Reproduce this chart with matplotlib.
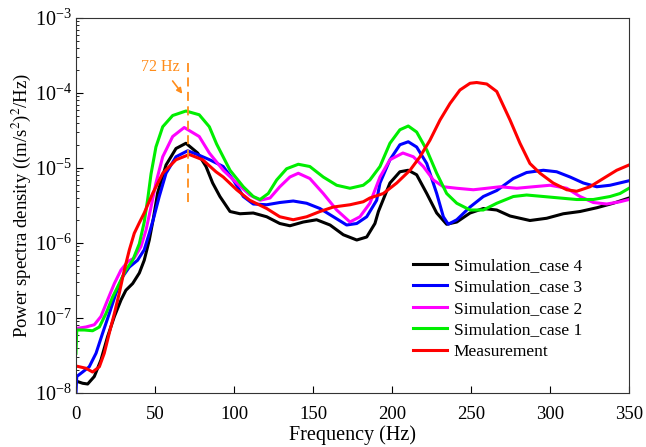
import numpy as np
import matplotlib
matplotlib.use("Agg")
from matplotlib import pyplot as plt
from matplotlib.ticker import LogLocator, LogFormatterSciNotation, MultipleLocator

# values (frequency in Hz, log10 of PSD)
f_case4 = [0, 4.2, 7.4, 11.6, 15.8, 20, 24.3, 28.5, 31.6, 35.9, 40.1, 43.2, 46.4, 49, 51.7, 57, 63.3, 69.6,
           77, 82.3, 86.5, 91.1, 97.5, 103.8, 112.2, 120.7, 129, 135.4, 143.9, 152.3, 160.8, 169.2, 177.7,
           184, 189.2, 191.4, 198.7, 205, 210.3, 215.6, 222, 228.3, 234.6, 241, 249.4, 257.8, 266.3, 274.7,
           287.3, 297.9, 308.4, 319, 329.6, 340, 350]
lg_case4 = [-7.84, -7.87, -7.88, -7.78, -7.56, -7.25, -6.98, -6.76, -6.63, -6.54, -6.40, -6.23, -5.96, -5.67,
            -5.33, -4.96, -4.74, -4.67, -4.80, -4.98, -5.20, -5.38, -5.58, -5.61, -5.60, -5.65, -5.74, -5.77,
            -5.72, -5.69, -5.76, -5.89, -5.96, -5.92, -5.74, -5.58, -5.20, -5.05, -5.03, -5.09, -5.34, -5.60,
            -5.75, -5.72, -5.60, -5.54, -5.56, -5.64, -5.70, -5.67, -5.61, -5.58, -5.53, -5.47, -5.40]

f_case3 = [0, 0.5, 4.2, 8.4, 12.7, 16.9, 21.1, 25.3, 29.5, 33.8, 39, 43.2, 46.4, 49, 52.7, 57, 63.3, 70.7,
           78, 84.6, 93.2, 99.6, 105.9, 112.2, 120.7, 129, 137.5, 146, 154.4, 162.9, 171.3, 177.7, 184,
           190.3, 192.4, 198.7, 205, 210.3, 215.6, 222, 228.3, 232.5, 235.6, 241, 249.4, 257.8, 266.3,
           276.8, 285.2, 295.8, 304.2, 312.7, 321.1, 329.6, 338, 350]
lg_case3 = [-8.0, -7.78, -7.72, -7.65, -7.47, -7.20, -6.94, -6.67, -6.45, -6.32, -6.23, -6.09, -5.87, -5.68,
            -5.38, -5.07, -4.85, -4.77, -4.83, -4.89, -4.98, -5.16, -5.38, -5.48, -5.49, -5.46, -5.44, -5.47,
            -5.54, -5.65, -5.76, -5.74, -5.65, -5.43, -5.20, -4.89, -4.69, -4.65, -4.72, -4.94, -5.34, -5.65,
            -5.75, -5.69, -5.52, -5.38, -5.30, -5.14, -5.06, -5.03, -5.05, -5.12, -5.20, -5.25, -5.23, -5.17]

f_case2 = [0, 6.3, 11.6, 15.8, 20, 24.3, 28.5, 32.7, 36.9, 41.1, 44.3, 47.5, 50.6, 54.9, 61.2, 68.5, 78,
           84.4, 93.2, 101.7, 110, 116.5, 122.8, 129, 135.4, 140.7, 148, 156.5, 165, 173.4, 179.7, 186,
           192.4, 198.7, 206.9, 213.5, 219.8, 226.2, 232.5, 241, 251.5, 260, 268.4, 279, 289.4, 300, 310.6,
           319, 327.4, 335.9, 344.3, 350]
lg_case2 = [-7.14, -7.12, -7.09, -6.98, -6.76, -6.54, -6.36, -6.25, -6.20, -6.05, -5.83, -5.52, -5.20, -4.85,
            -4.58, -4.46, -4.58, -4.80, -5.03, -5.20, -5.36, -5.43, -5.40, -5.25, -5.12, -5.07, -5.14, -5.34,
            -5.56, -5.72, -5.65, -5.47, -5.12, -4.89, -4.80, -4.85, -4.98, -5.16, -5.25, -5.27, -5.29, -5.27,
            -5.25, -5.27, -5.25, -5.23, -5.27, -5.38, -5.46, -5.48, -5.45, -5.42]

f_case1 = [0, 0.5, 5.3, 10.5, 14.8, 19, 23.2, 27.4, 31.6, 35.9, 40.1, 43.2, 45.5, 47.5, 50.6, 54.9, 61.2,
           69.6, 78, 84.4, 89, 97.5, 105.9, 112.2, 116.5, 121.7, 127, 133.3, 140.7, 148, 156.5, 165, 173.4,
           181.8, 186, 192.4, 198.7, 205, 210.3, 215.6, 222, 228.3, 234.6, 241, 249.4, 257.8, 266.3, 276.8,
           285.2, 295.8, 306.3, 316.9, 327.4, 338, 344.3, 350]
lg_case1 = [-7.47, -7.16, -7.16, -7.17, -7.12, -6.94, -6.72, -6.54, -6.36, -6.23, -6.01, -5.72, -5.40, -5.08,
            -4.72, -4.45, -4.30, -4.24, -4.29, -4.45, -4.68, -5.03, -5.25, -5.38, -5.42, -5.34, -5.16, -5.01,
            -4.95, -4.98, -5.12, -5.23, -5.27, -5.23, -5.16, -4.98, -4.67, -4.49, -4.44, -4.52, -4.76, -5.07,
            -5.34, -5.47, -5.56, -5.56, -5.47, -5.38, -5.36, -5.38, -5.40, -5.42, -5.42, -5.38, -5.34, -5.27]

f_meas = [0, 6.3, 10.5, 14.8, 17.9, 21.1, 24.3, 27.4, 30.6, 33.8, 36.9, 40.1, 43.2, 48.5, 54.9, 63.3, 71.7,
          80.2, 88.6, 93.2, 101.7, 110, 120.7, 129, 137.5, 146, 154.4, 162.9, 173.4, 181.8, 186, 194.5, 203,
          211.4, 217.7, 224, 230.4, 236.7, 243, 249.4, 253.6, 260, 266.3, 274.7, 281, 287.3, 293.7, 302,
          310.6, 316.9, 325.3, 333.7, 342.2, 350]
lg_meas = [-7.64, -7.67, -7.72, -7.65, -7.47, -7.20, -6.94, -6.67, -6.36, -6.09, -5.87, -5.73, -5.60, -5.34,
           -5.07, -4.89, -4.82, -4.89, -5.05, -5.12, -5.29, -5.43, -5.54, -5.65, -5.69, -5.65, -5.58, -5.52,
           -5.49, -5.45, -5.40, -5.34, -5.20, -5.03, -4.85, -4.63, -4.36, -4.14, -3.96, -3.87, -3.86, -3.88,
           -3.98, -4.36, -4.67, -4.94, -5.07, -5.20, -5.29, -5.31, -5.25, -5.14, -5.03, -4.96]

series = [
    ("Simulation_case 4", f_case4, lg_case4, "black"),
    ("Simulation_case 3", f_case3, lg_case3, "#0000ff"),
    ("Simulation_case 2", f_case2, lg_case2, "#ff00ff"),
    ("Simulation_case 1", f_case1, lg_case1, "#00ee00"),
    ("Measurement", f_meas, lg_meas, "#ff0000"),
]

plt.rcParams['font.family'] = ['Liberation Serif', 'DejaVu Serif']
plt.rcParams['mathtext.fontset'] = 'stix'

fig = plt.figure(figsize=(6.46, 4.47), dpi=100)
ax = fig.add_axes([0.1176, 0.1208, 0.8561, 0.8389])

for name, f, lg, c in series:
    ax.plot(f, 10 ** np.array(lg), color=c, lw=2.2, label=name, solid_joinstyle="round")

# 72 Hz marker
orange = "#ff8c1a"
ax.plot([71, 71], [2.5e-4, 3.1e-6], color=orange, lw=1.3, ls=(0, (5, 3)))
ax.annotate("", xy=(68.4, 10 ** -4.04), xytext=(60.1, 10 ** -3.81),
            arrowprops=dict(arrowstyle="-|>", color=orange, lw=1.2, mutation_scale=8))
ax.text(53.2, 10 ** -3.65, "72 Hz", color=orange, fontsize=11.5, ha="center", va="center")

ax.set_yscale("log")
ax.set_xlim(0, 350)
ax.set_ylim(1e-8, 1e-3)
ax.xaxis.set_major_locator(MultipleLocator(50))
ax.yaxis.set_major_locator(LogLocator(base=10, numticks=10))
ax.yaxis.set_minor_locator(LogLocator(base=10, subs=np.arange(2, 10), numticks=20))
ax.yaxis.set_major_formatter(LogFormatterSciNotation())
ax.tick_params(which="both", direction="in")
ax.tick_params(axis="x", labelsize=13.5, pad=9)
ax.tick_params(axis="y", labelsize=14.5, pad=3)
ax.tick_params(which="major", length=5)
ax.tick_params(which="minor", length=2.5)
for s in ax.spines.values():
    s.set_color("#333333")

ax.set_xlabel("Frequency (Hz)", fontsize=14.5, labelpad=2)
ax.set_ylabel("Power spectra density ((m/s$^2$)$^2$/Hz)", fontsize=13.5, labelpad=1)

ax.legend(loc="upper left", bbox_to_anchor=(0.609, 0.36), frameon=False, fontsize=12.5,
          borderpad=0, borderaxespad=0, handlelength=2.0, handletextpad=0.35, labelspacing=0.3)

fig.savefig("out.png", dpi=100)
